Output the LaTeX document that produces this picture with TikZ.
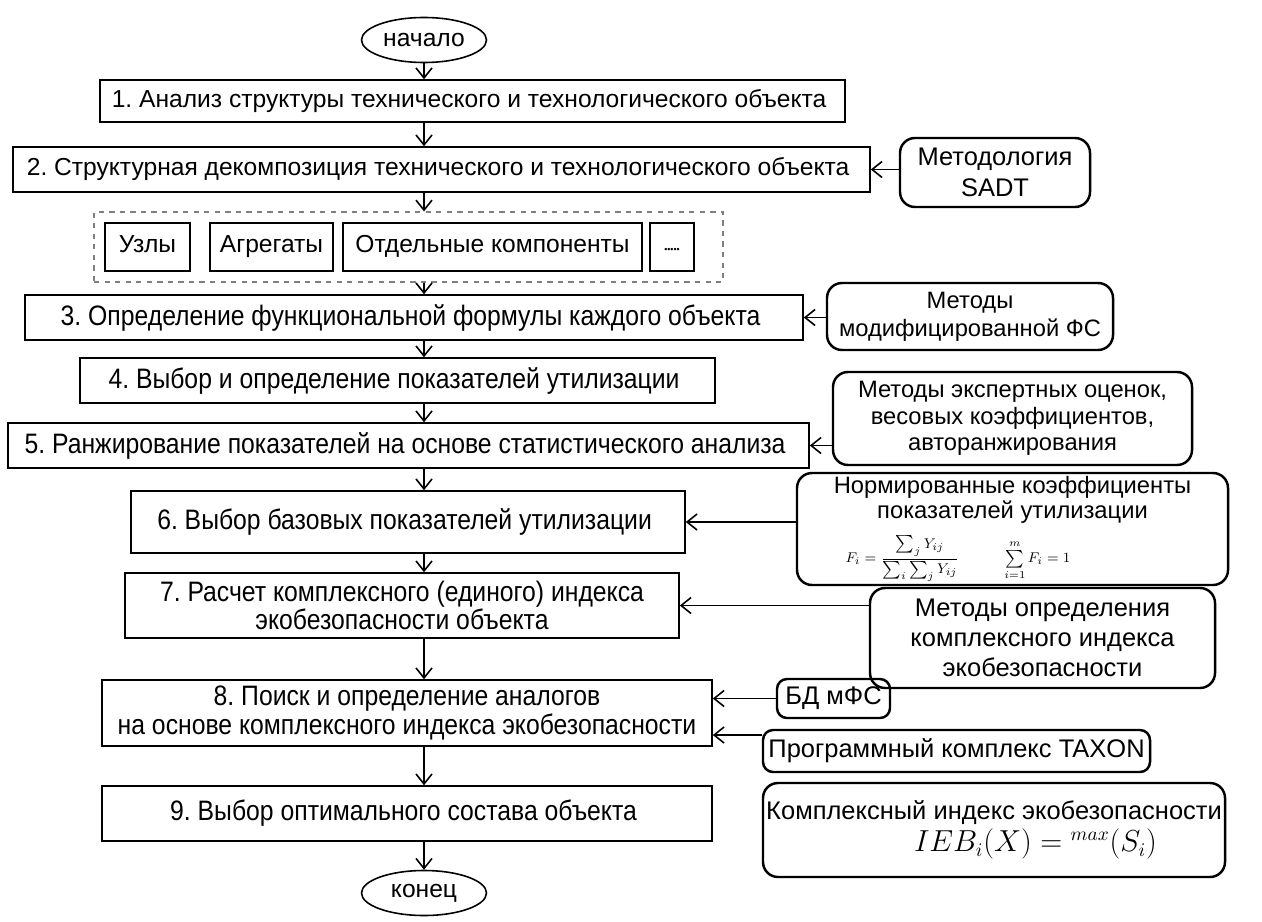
\documentclass[tikz,border=0pt]{standalone}
\usepackage{fontspec}
\setmainfont{Liberation Sans}
\newfontfamily\narrowfont{Liberation Sans}[FakeStretch=0.88]
\frenchspacing
\usetikzlibrary{
	arrows.meta,
	positioning,
	shapes.geometric,
	fit,
}

\begin{document}
\begin{tikzpicture} [
            every node/.style={align=center},
            term/.style={draw,ellipse,line width=0.9pt,minimum width=25mm,minimum height=9mm,inner sep=0pt,font=\fontsize{14}{16}\selectfont},
            etap/.style={draw,rectangle,line width=0.9pt,inner sep=0pt,font=\fontsize{14}{16}\selectfont},
            etapn/.style={etap,font=\narrowfont\fontsize{16}{16}\selectfont},
            part/.style={draw,rectangle,line width=1.1pt,minimum height=9.6mm,inner sep=0pt,text height=2.9mm,text depth=0.9mm,font=\fontsize{14}{16}\selectfont},
            meth/.style={draw,rectangle,rounded corners=3mm,line width=1.4pt,inner sep=0pt,font=\fontsize{14.5}{17}\selectfont},
            arr/.style={-{Straight Barb[length=2mm,width=3.2mm]},line width=0.9pt}
        ]
        \useasboundingbox (0,0) rectangle (25.24,-18.42);

        \node at (8.48,-0.80) [term] (start) {начало};

        \node at (9.45,-2.02) [etap,minimum width=149mm,minimum height=8.4mm] (s1) {
            1. Анализ структуры технического и технологического объекта
        };
        \node at (8.83,-3.39) [etap,minimum width=171.4mm,minimum height=9mm] (s2) {
            2. Структурная декомпозиция технического и технологического объекта
        };
        \node at (19.9,-3.45) [meth,minimum width=38mm,minimum height=13.8mm,font=\fontsize{14.5}{18}\selectfont] (sadt) {
            Методология \\ SADT
        };

        \node at (8.17,-4.94) [draw=gray,dashed,line width=0.7pt,minimum width=125.8mm,minimum height=14mm] (grp) {};
        \node at (2.95,-4.94) [part,minimum width=17mm] (uzly) {Узлы};
        \node at (5.43,-4.94) [part,minimum width=24.6mm] (agr) {Агрегаты};
        \node at (9.85,-4.94) [part,minimum width=59.8mm] (komp) {Отдельные компоненты};
        \node at (13.44,-4.94) [part,minimum width=8.8mm] (etc) {\fontsize{5}{5}\selectfont •••••};

        \node at (8.28,-6.35) [etapn,minimum width=155.6mm,minimum height=9mm] (s3) {
            3. Определение функциональной формулы каждого объекта
        };
        \node at (19.4,-6.33) [meth,minimum width=57.2mm,minimum height=13.4mm,font=\fontsize{13.5}{16}\selectfont] (mfs) {
            Методы \\ модифицированной ФС
        };

        \node at (7.95,-7.61) [etapn,minimum width=127mm,minimum height=9mm] (s4) {
            4. Выбор и определение показателей утилизации
        };

        \node at (8.17,-8.91) [etapn,minimum width=160.2mm,minimum height=9mm] (s5) {
            5. Ранжирование показателей на основе статистического анализа
        };
        \node at (20.25,-8.37) [meth,minimum width=71.8mm,minimum height=18.6mm,font=\fontsize{13.5}{15}\selectfont] (expert) {
            Методы экспертных оценок, \\ весовых коэффициентов, \\ авторанжирования
        };

        \node at (8.16,-10.44) [etapn,minimum width=110.8mm,minimum height=12.4mm] (s6) {
            6. Выбор базовых показателей утилизации
        };
        \node at (20.25,-10.58) [meth,minimum width=86.2mm,minimum height=22.4mm,font=\fontsize{13.5}{14.5}\selectfont] (norm) {
            Нормированные коэффициенты \\ показателей утилизации \\[6pt]
            \makebox[80mm][l]{\hspace{6.6mm}\fontsize{8}{9}\selectfont
            $\displaystyle F_i=\frac{\textstyle\sum_j Y_{ij}}{\textstyle\sum_i\sum_j Y_{ij}}$\hspace{9mm}$\sum\limits_{i=1}^{m}F_i=1$}
        };

        \node at (8.04,-12.11) [etapn,minimum width=110.8mm,minimum height=13mm] (s7) {
            7. Расчет комплексного (единого) индекса \\ экобезопасности объекта
        };
        \node at (20.85,-12.76) [meth,minimum width=69mm,minimum height=20mm] (metieb) {
            Методы определения \\ комплексного индекса \\ экобезопасности
        };

        \node at (8.14,-14.26) [etapn,minimum width=122mm,minimum height=13.2mm] (s8) {
            8. Поиск и определение аналогов \\ на основе комплексного индекса экобезопасности
        };
        \node at (16.67,-13.97) [meth,rounded corners=2mm,minimum width=22.6mm,minimum height=7.8mm] (bd) {БД мФС};
        \node at (19.13,-15.02) [meth,rounded corners=2mm,minimum width=77.4mm,minimum height=8.4mm] (taxon) {Программный комплекс TAXON};

        \node at (8.14,-16.27) [etapn,minimum width=122mm,minimum height=11mm] (s9) {
            9. Выбор оптимального состава объекта
        };
        \node at (19.88,-16.6) [meth,minimum width=92.4mm,minimum height=18.8mm] (ieb) {
            Комплексный индекс экобезопасности \\[1pt]
            \makebox[86mm][l]{\hspace{27mm}\fontsize{16}{18}\selectfont $IEB_i(X)={}^{max}(S_i)$}
        };

        \node at (8.48,-17.86) [term] (end) {конец};

        \draw[arr] (start) -- (s1.north -| start);
        \draw[arr] (s1.south -| start) -- (s2.north -| start);
        \draw[arr] (s2.south -| start) -- (grp.north -| start);
        \draw[arr] (grp.south -| start) -- (s3.north -| start);
        \draw[arr] (s3.south -| start) -- (s4.north -| start);
        \draw[arr] (s4.south -| start) -- (s5.north -| start);
        \draw[arr] (s5.south -| start) -- (s6.north -| start);
        \draw[arr] (s6.south -| start) -- (s7.north -| start);
        \draw[arr] (s7.south -| start) -- (s8.north -| start);
        \draw[arr] (s8.south -| start) -- (s9.north -| start);
        \draw[arr] (s9.south -| start) -- (end);

        \draw[arr] (sadt.west |- s2.east) -- (s2.east);
        \draw[arr] (mfs.west |- s3.east) -- (s3.east);
        \draw[arr] (expert.west |- s5.east) -- (s5.east);
        \draw[arr] (norm.west |- s6.east) -- (s6.east);
        \draw[arr] (metieb.west |- s7.east) -- (s7.east);
        \draw[arr] (bd.west) -- (bd.west -| s8.east);
        \draw[arr] ([yshift=3.2mm]taxon.west) coordinate (tx) -- (tx -| s8.east);
    \end{tikzpicture}
\end{document}
